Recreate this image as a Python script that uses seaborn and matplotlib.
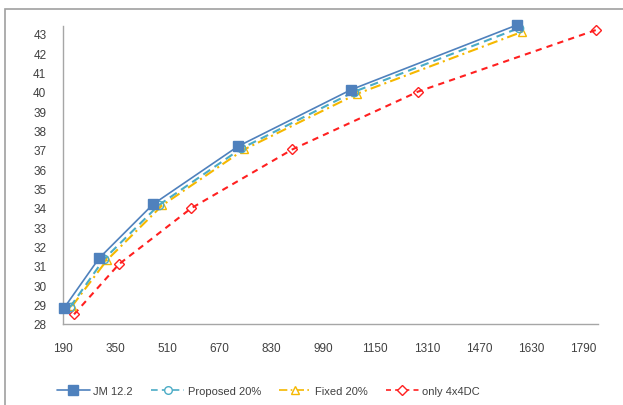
import matplotlib
matplotlib.use("Agg")
import matplotlib.pyplot as plt
import seaborn as sns
import pandas as pd
from matplotlib.patches import Rectangle
from matplotlib.lines import Line2D

sns.set_theme(style="white")
plt.rcParams['font.family'] = ['Liberation Sans', 'DejaVu Sans']

series_names = ["JM 12.2", "Proposed 20%", "Fixed 20%", "only 4x4DC"]
jm_x = [193, 301, 467, 728, 1076, 1587]
jm_y = [28.82, 31.40, 34.19, 37.18, 40.11, 43.46]
prop_x = [212, 316, 485, 738, 1085, 1593]
prop_y = [28.88, 31.35, 34.15, 37.07, 40.00, 43.30]
fixed_x = [218, 325, 495, 747, 1095, 1602]
fixed_y = [28.93, 31.30, 34.13, 37.02, 39.90, 43.10]
dc_x = [224, 362, 584, 895, 1282, 1830]
dc_y = [28.50, 31.09, 33.98, 37.02, 40.01, 43.20]
x_ticks = [190, 350, 510, 670, 830, 990, 1150, 1310, 1470, 1630, 1790]
y_ticks = list(range(28, 44))

colors = ["#4F81BD", "#4BACC6", "#F5B800", "#FF2020"]
markers = ["s", "o", "^", "D"]
dashes = [(None, None), (4, 2.5), (5, 2, 1, 2), (3, 2.5)]
msizes = [7, 6, 6, 5.5]

fig = plt.figure(figsize=(6.23, 4.06), dpi=100)
ax = fig.add_axes([63/623, 1-325/406, (598-63)/623, (325-27)/406])

frames = []
for name, xs, ys in zip(series_names, [jm_x, prop_x, fixed_x, dc_x], [jm_y, prop_y, fixed_y, dc_y]):
    frames.append(pd.DataFrame({"x": xs, "y": ys, "series": name}))
df = pd.concat(frames, ignore_index=True)

handles = []
for i, name in enumerate(series_names):
    sub = df[df["series"] == name]
    filled = (i == 0)
    sns.lineplot(data=sub, x="x", y="y", ax=ax, color=colors[i], lw=1.2 if i == 0 else 1.5,
                 marker=markers[i], markersize=msizes[i],
                 markerfacecolor=colors[i] if filled else "none",
                 markeredgecolor=colors[i], markeredgewidth=1.0,
                 legend=False, clip_on=False, zorder=5 - i, sort=False)
    line = ax.get_lines()[-1]
    if i > 0:
        line.set_dashes(dashes[i])
    h = Line2D([0], [0], color=colors[i], lw=1.2, marker=markers[i], markersize=msizes[i] - 0.5,
               markerfacecolor=colors[i] if filled else "white", markeredgecolor=colors[i])
    if i > 0:
        h.set_dashes(dashes[i])
    handles.append(h)

ax.set_xlim(190, 1835)
ax.set_ylim(28, 43.4)
ax.set_xticks(x_ticks)
ax.set_yticks(y_ticks)
ax.set_xticklabels([str(v) for v in x_ticks])
ax.set_yticklabels([str(v) for v in y_ticks])
ax.tick_params(axis="x", length=0, pad=13, labelsize=8.5, labelcolor="#404040")
ax.tick_params(axis="y", length=0, pad=12, labelsize=8.5, labelcolor="#404040")
ax.set_xlabel("")
ax.set_ylabel("")
for s in ["top", "right"]:
    ax.spines[s].set_visible(False)
for s in ["left", "bottom"]:
    ax.spines[s].set_color("#A6A6A6")
    ax.spines[s].set_linewidth(1.0)
ax.grid(False)

fig.legend(handles, series_names, loc="center", bbox_to_anchor=(0.431, 1-392/406), ncol=4,
           frameon=False, fontsize=8, handlelength=3.0, columnspacing=1.6, handletextpad=0.3,
           labelcolor="#404040")

fig.patches.append(Rectangle((5/623, -0.1), 1.2, 1 - 10/406 + 0.1, transform=fig.transFigure,
                             fill=False, edgecolor="#A0A0A0", lw=1.2))

fig.savefig("out.png", dpi=100)
